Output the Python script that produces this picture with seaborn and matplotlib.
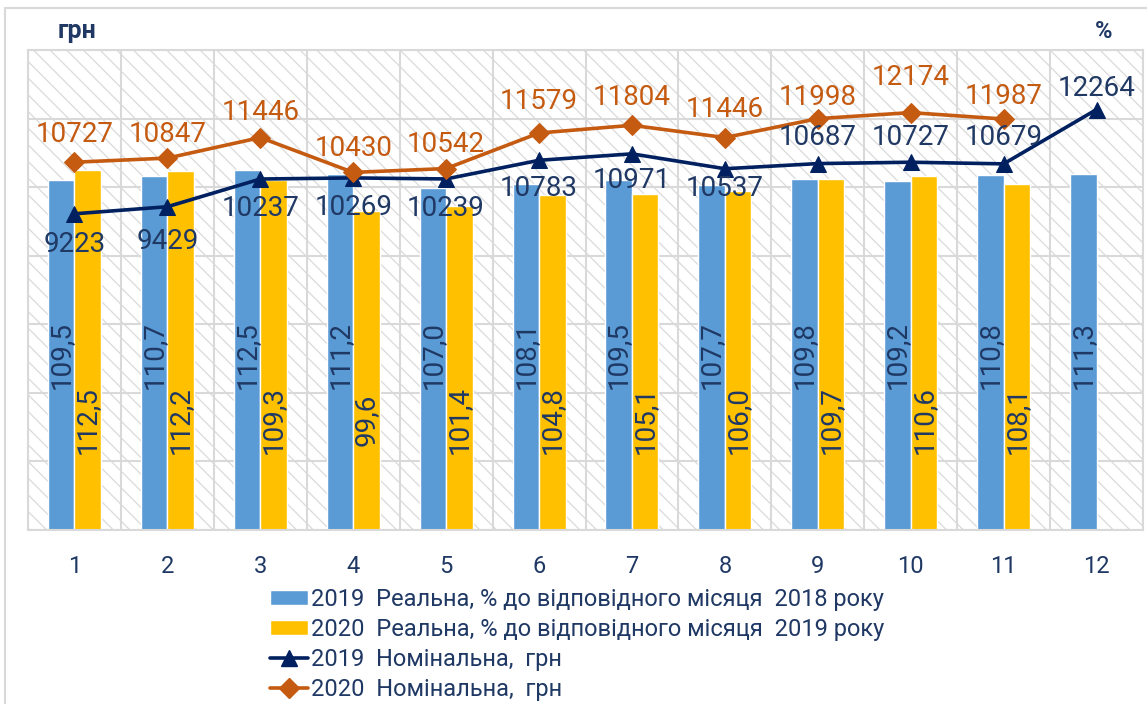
import matplotlib
matplotlib.use("Agg")
import matplotlib.pyplot as plt
from matplotlib.patches import Rectangle
from matplotlib.lines import Line2D
import numpy as np
import pandas as pd
import seaborn as sns

months = list(range(1, 13))
real_2019 = [109.5, 110.7, 112.5, 111.2, 107.0, 108.1, 109.5, 107.7, 109.8, 109.2, 110.8, 111.3]
real_2020 = [112.5, 112.2, 109.3, 99.6, 101.4, 104.8, 105.1, 106.0, 109.7, 110.6, 108.1]
nominal_2019 = [9223, 9429, 10237, 10269, 10239, 10783, 10971, 10537, 10687, 10727, 10679, 12264]
nominal_2020 = [10727, 10847, 11446, 10430, 10542, 11579, 11804, 11446, 11998, 12174, 11987]

label_real_2019 = "2019  Реальна, % до відповідного місяця  2018 року"
label_real_2020 = "2020  Реальна, % до відповідного місяця  2019 року"
label_nom_2019 = "2019  Номінальна,  грн"
label_nom_2020 = "2020  Номінальна,  грн"

BLUE = "#5B9BD5"
YELLOW = "#FFC000"
NAVY = "#002060"
ORANGE = "#C55A11"
TEXT = "#1F3864"
GRID = "#D9D9D9"

sns.set_theme(style="white")
plt.rcParams["font.family"] = ["Roboto", "DejaVu Sans"]
plt.rcParams["hatch.color"] = "#DADADA"
plt.rcParams["hatch.linewidth"] = 0.9

df = pd.DataFrame({
    "month": [str(m) for m in months] * 2,
    "series": [label_real_2019] * 12 + [label_real_2020] * 12,
    "value": real_2019 + real_2020 + [np.nan],
})

fig = plt.figure(figsize=(11.47, 7.04), dpi=100)
ax = fig.add_axes([28 / 1147, 1 - 530 / 704, (1143 - 28) / 1147, 480 / 704])

# hatched plot background
ax.add_patch(Rectangle((0, 0), 1, 1, transform=ax.transAxes, facecolor="white",
                       edgecolor="#DADADA", hatch="\\\\", linewidth=0, zorder=0))

sns.barplot(data=df, x="month", y="value", hue="series", ax=ax,
            palette=[BLUE, YELLOW], width=0.57, saturation=1, legend=False, zorder=2)
ax.set_ylim(0, 150)
ax.set_xlim(-0.5, 11.5)
ax.set_yticks(np.linspace(0, 150, 8))
ax.set_yticklabels([])
ax.set_xticks(np.arange(-0.5, 12, 1), minor=True)
ax.grid(True, which="major", axis="y", color=GRID, linewidth=1.5)
ax.grid(True, which="minor", axis="x", color=GRID, linewidth=1.5)
ax.set_axisbelow(True)
ax.tick_params(axis="x", which="major", length=0, pad=18, labelsize=17, labelcolor=TEXT)
ax.tick_params(axis="x", which="minor", length=9, width=1.5, color=GRID, direction="out")
ax.tick_params(axis="y", length=0)
ax.set_xlabel("")
ax.set_ylabel("")
for s in ax.spines.values():
    s.set_color(GRID)
    s.set_linewidth(1.5)

# vertical labels inside the bars
for cont, y_pos in zip(ax.containers, [54.7, 34.4]):
    for bar in cont:
        h = bar.get_height()
        if np.isnan(h) or h == 0:
            continue
        ax.text(bar.get_x() + bar.get_width() / 2, y_pos, f"{h:.1f}".replace(".", ","),
                rotation=90, ha="center", va="center", fontsize=20, color=TEXT, zorder=3)

ax2 = ax.twinx()
ax2.set_ylim(0, 14000)
ax2.set_yticks([])
for s in ax2.spines.values():
    s.set_visible(False)

sns.lineplot(x=np.arange(12), y=nominal_2019, ax=ax2, color=NAVY, linewidth=2.6,
             marker="^", markersize=11, markeredgecolor=NAVY, zorder=4)
sns.lineplot(x=np.arange(11), y=nominal_2020, ax=ax2, color=ORANGE, linewidth=2.6,
             marker="D", markersize=10, markeredgecolor=ORANGE, zorder=4)
ax2.set_xlim(-0.5, 11.5)

nav_off = [22, 25, 21, 21, 21, 20, 19, 14, -19, -18, -19, -15]
ora_off = [-20, -17, -18, -17, -17, -23, -20, -20, -15, -25, -16]
for i, v in enumerate(nominal_2019):
    ax2.annotate(str(v), (i, v), xytext=(0, -nav_off[i]), textcoords="offset points",
                 ha="center", va="center", fontsize=20, color=TEXT, zorder=5)
for i, v in enumerate(nominal_2020):
    ax2.annotate(str(v), (i, v), xytext=(0, -ora_off[i]), textcoords="offset points",
                 ha="center", va="center", fontsize=20, color=ORANGE, zorder=5)

fig.text(58 / 1147, 1 - 31 / 704, "грн", fontsize=18, fontweight="bold", color=TEXT,
         ha="left", va="center")
fig.text(1104 / 1147, 1 - 32 / 704, "%", fontsize=17, fontweight="bold", color=TEXT,
         ha="center", va="center")

handles = [
    Rectangle((0, 0), 1, 1, facecolor=BLUE),
    Rectangle((0, 0), 1, 1, facecolor=YELLOW),
    Line2D([], [], color=NAVY, linewidth=2.6, marker="^", markersize=11),
    Line2D([], [], color=ORANGE, linewidth=2.6, marker="D", markersize=10),
]
fig.legend(handles, [label_real_2019, label_real_2020, label_nom_2019, label_nom_2020],
           loc="upper left", bbox_to_anchor=(270 / 1147, 1 - 588 / 704), frameon=False,
           fontsize=17, labelcolor=TEXT, handlelength=1.6, handleheight=0.6,
           handletextpad=0.15, labelspacing=0.3, borderpad=0, borderaxespad=0)

# outer chart frame
fig.add_artist(Rectangle((5 / 1147, -0.05), 1.1, 1 - 8 / 704 + 0.05, transform=fig.transFigure,
                         fill=False, edgecolor=GRID, linewidth=1.5))

fig.savefig("out.png", dpi=100)
